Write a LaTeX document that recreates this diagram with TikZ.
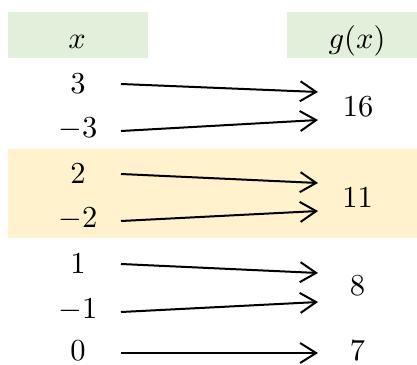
\documentclass[tikz,border=0pt]{standalone}
\usetikzlibrary{arrows.meta}
\definecolor{headgreen}{HTML}{E2EFDA}
\definecolor{bandorange}{HTML}{FFF2CC}
% enlarged math entry for the table cells
\newcommand{\cellmath}[1]{\scalebox{3.05}{$#1$}}
\tikzset{
  val/.style={anchor=base, inner sep=0pt},
  maparrow/.style={line width=2pt, -{Straight Barb[length=16pt,width=20pt]}},
}
\begin{document}
\begin{tikzpicture}[x=1pt,y=-1pt]
\useasboundingbox (0,0) rectangle (417,364);

% header cells and highlighted band
\fill[headgreen] (8,12) rectangle (148,58);
\fill[headgreen] (287,12) rectangle (417,58);
\fill[bandorange] (8,149) rectangle (417,238);

% column headers
\node[val] (hx) at (77,48) {\cellmath{x}};
\node[val] (hg) at (357,48) {\cellmath{g(x)}};

% inputs
\node[val] (xp3) at (78,93)  {\cellmath{3}};
\node[val] (xm3) at (78,137) {\cellmath{-3}};
\node[val] (xp2) at (78,183) {\cellmath{2}};
\node[val] (xm2) at (78,227) {\cellmath{-2}};
\node[val] (xp1) at (78,273) {\cellmath{1}};
\node[val] (xm1) at (78,318) {\cellmath{-1}};
\node[val] (x0)  at (78,360) {\cellmath{0}};

% outputs
\node[val] (g16) at (358,116) {\cellmath{16}};
\node[val] (g11) at (357.5,207) {\cellmath{11}};
\node[val] (g8)  at (357.5,295) {\cellmath{8}};
\node[val] (g7)  at (357.5,360) {\cellmath{7}};

% arrow end points
\coordinate (sp3) at (121,84);  \coordinate (tp3) at (318,92);
\coordinate (sm3) at (121,131); \coordinate (tm3) at (318,120);
\coordinate (sp2) at (121,174); \coordinate (tp2) at (318,183);
\coordinate (sm2) at (121,221); \coordinate (tm2) at (318,211);
\coordinate (sp1) at (121,264); \coordinate (tp1) at (318,273);
\coordinate (sm1) at (121,312); \coordinate (tm1) at (318,302);
\coordinate (s0)  at (121,353); \coordinate (t0)  at (318,353);

\draw[maparrow] (sp3) -- (tp3);
\draw[maparrow] (sm3) -- (tm3);
\draw[maparrow] (sp2) -- (tp2);
\draw[maparrow] (sm2) -- (tm2);
\draw[maparrow] (sp1) -- (tp1);
\draw[maparrow] (sm1) -- (tm1);
\draw[maparrow] (s0)  -- (t0);
\end{tikzpicture}
\end{document}
